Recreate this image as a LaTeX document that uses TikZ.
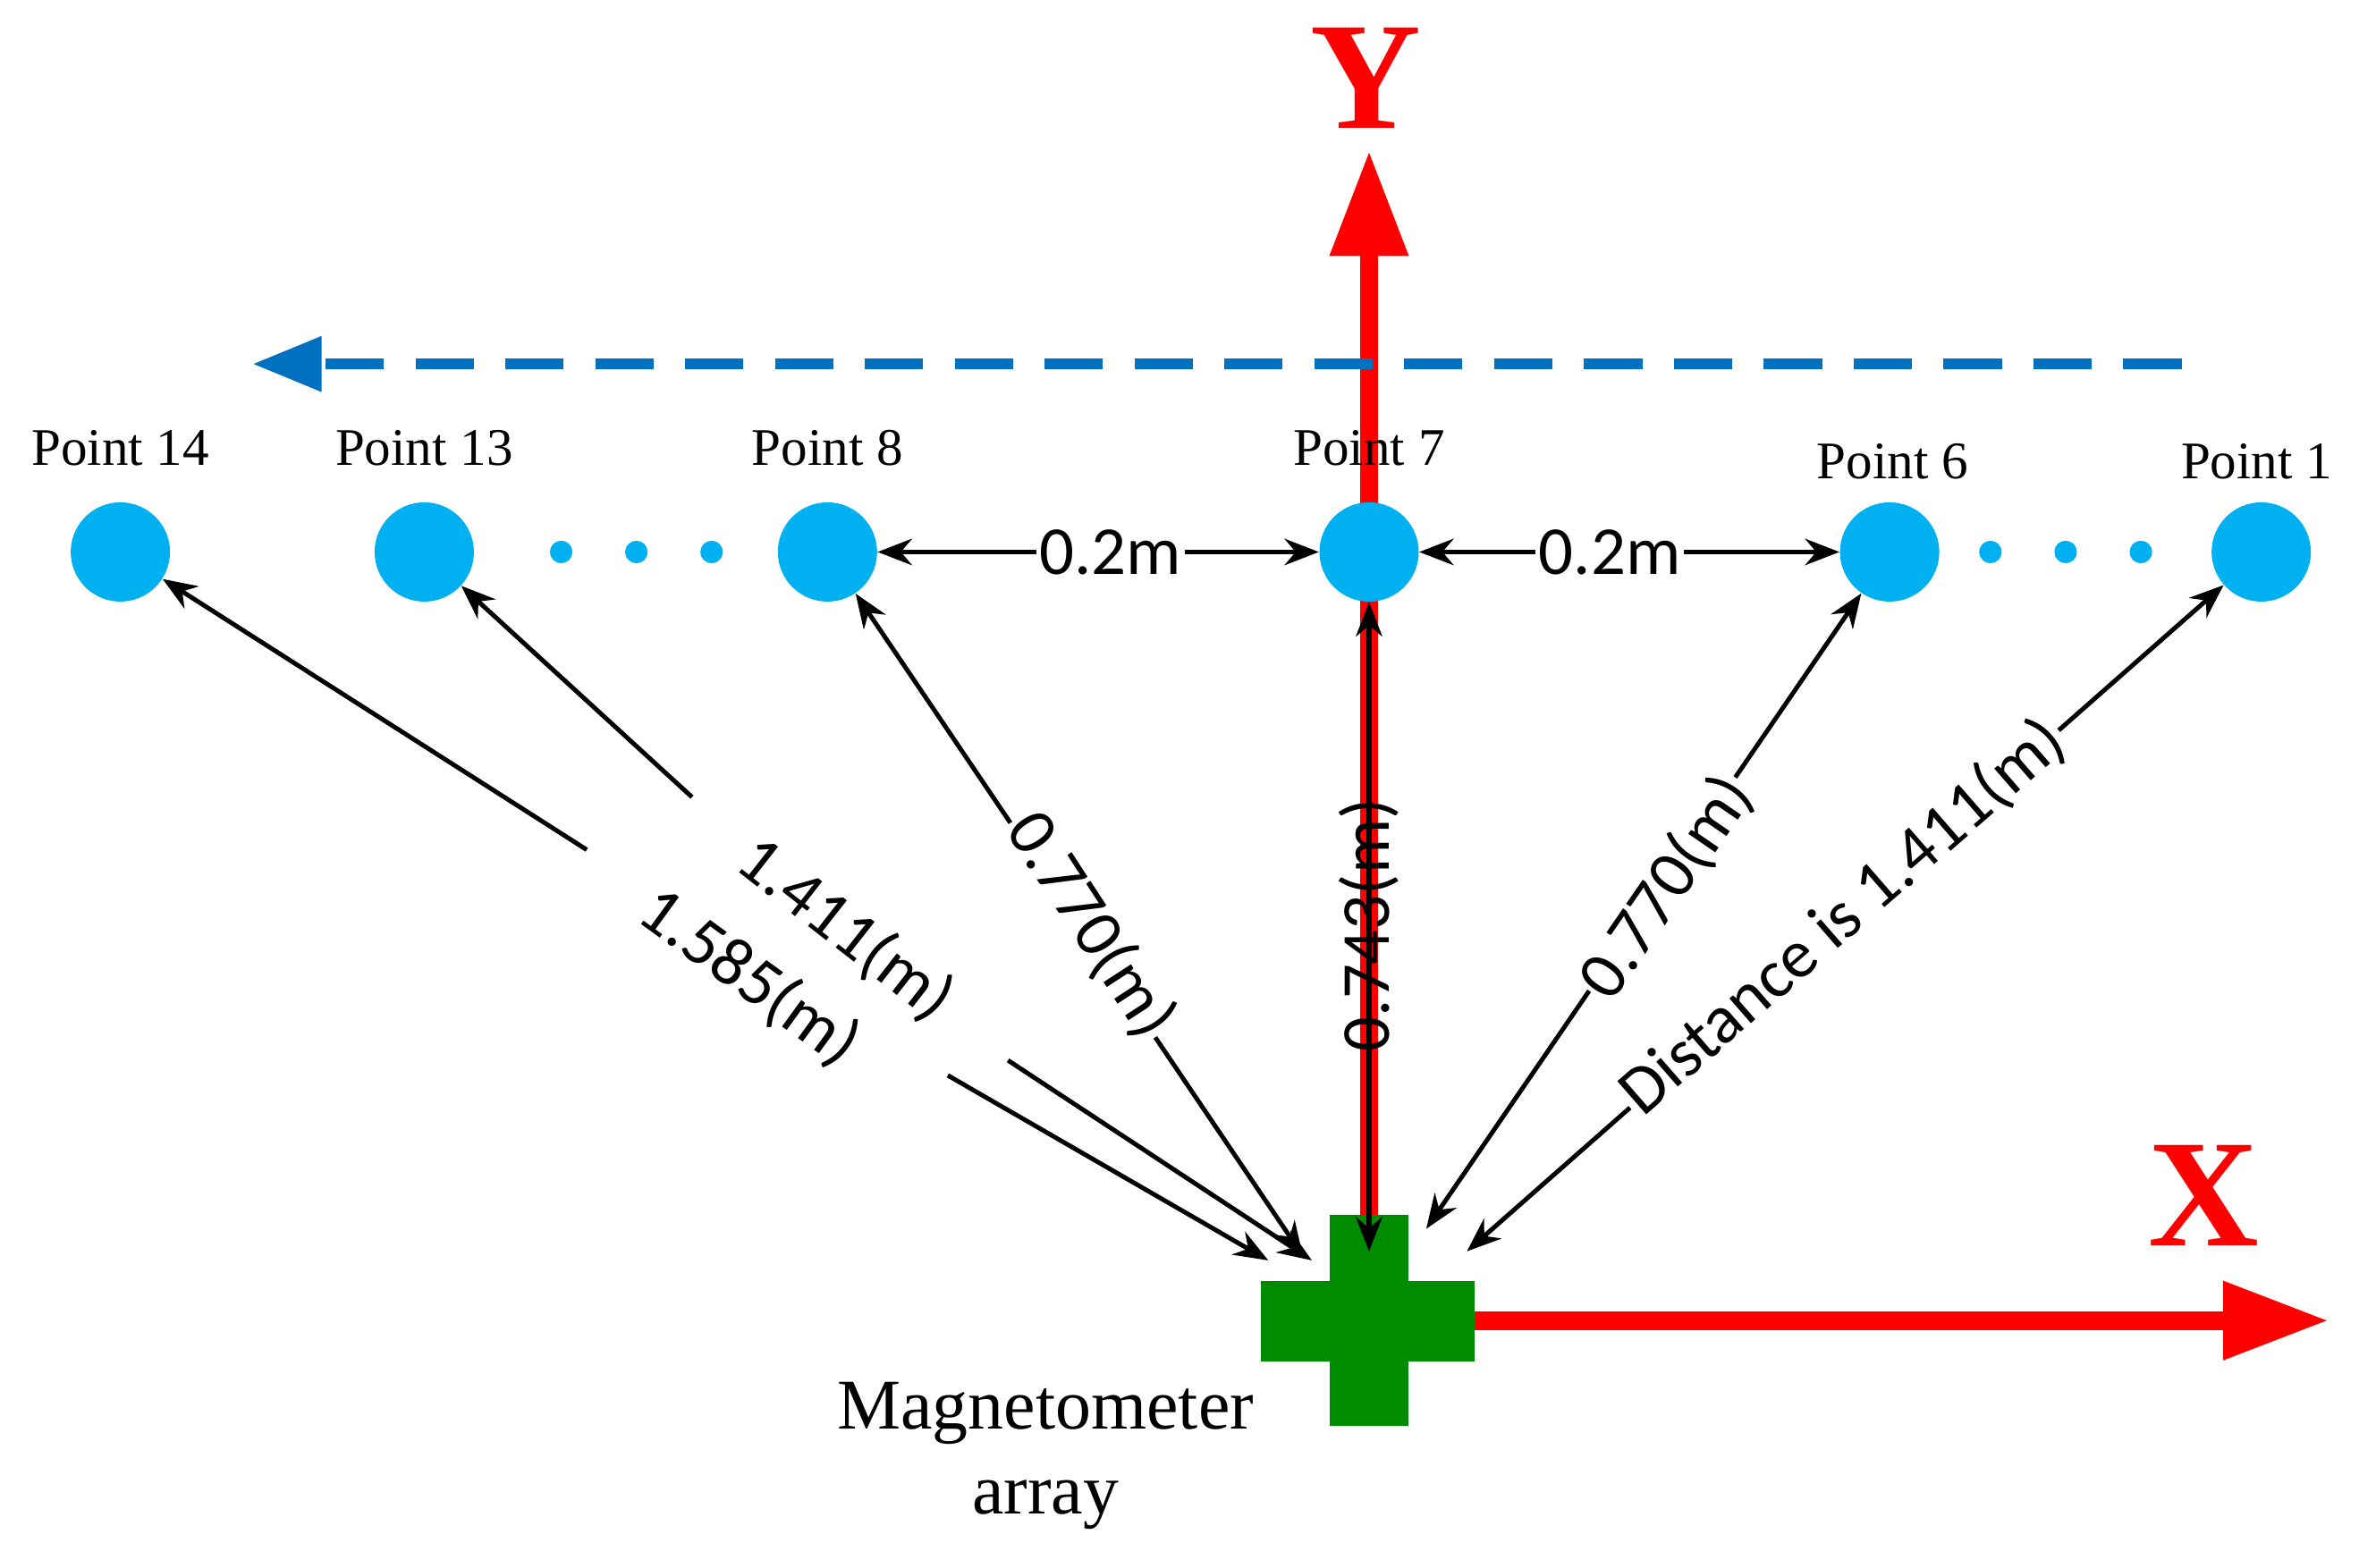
\documentclass[tikz,border=0pt]{standalone}
\usepackage{fontspec}
\setmainfont{Liberation Serif}
\newfontfamily\calib{Carlito}
\usetikzlibrary{arrows.meta}
\definecolor{ptblue}{RGB}{0,176,240}
\definecolor{dblue}{RGB}{0,112,192}
\definecolor{gcross}{RGB}{0,140,0}
\begin{document}
\begin{tikzpicture}[x=0.02cm,y=-0.02cm,
  pt/.style={circle,fill=ptblue,minimum size=1.32cm,inner sep=0},
  dot/.style={circle,fill=ptblue,minimum size=0.3cm,inner sep=0},
  plab/.style={font=\fontsize{20}{22}\selectfont},
  dlab/.style={font=\calib\fontsize{26}{28}\selectfont,inner sep=1pt},
  tipA/.style={Stealth[length=13pt,width=10pt]},
  meas/.style={line width=1.7pt,{Stealth[length=13pt,width=10pt]}-{Stealth[length=13pt,width=10pt]}},
  single/.style={line width=1.7pt,-{Stealth[length=13pt,width=10pt]}},
  axis/.style={red,line width=7pt,-{Triangle[length=40pt,width=28pt]}}]
\useasboundingbox (0,0) rectangle (1568,1042);
% axes
\coordinate (O) at (910,878);
\coordinate (Ytip) at (910,100);
\coordinate (Xtip) at (1548,878);
\draw[axis] (O) -- (Ytip);
\draw[axis] (O) -- (Xtip);
\node[red,font=\bfseries\fontsize{58}{60}\selectfont] (Y) at (908,52) {Y};
\node[red,font=\bfseries\fontsize{58}{60}\selectfont] (X) at (1465,795) {X};
% dashed direction
\coordinate (ds) at (1450,242);
\coordinate (de) at (168,242);
\draw[dblue,line width=4pt,dash pattern=on 22pt off 12pt,-{Triangle[length=26pt,width=20pt]}] (ds) -- (de);
% points
\node[pt] (p14) at (80,367) {};
\node[pt] (p13) at (282,367) {};
\node[pt] (p8) at (550,367) {};
\node[pt] (p7) at (910,367) {};
\node[pt] (p6) at (1256,367) {};
\node[pt] (p1) at (1503,367) {};
\foreach \x/\n in {373/a,423/b,473/c,1323/d,1373/e,1423/f} \node[dot] (dot\n) at (\x,367) {};
\node[plab] (l14) at (80,298) {Point 14};
\node[plab] (l13) at (282,298) {Point 13};
\node[plab] (l8) at (550,298) {Point 8};
\node[plab] (l7) at (910,298) {Point 7};
\node[plab] (l6) at (1258,307) {Point 6};
\node[plab] (l1) at (1500,307) {Point 1};
% 0.2m
\node[dlab] (s1) at (738,367) {0.2m};
\node[dlab] (s2) at (1070,367) {0.2m};
\draw[single] (s1) -- (p8);
\draw[single] (s1) -- (p7);
\draw[single] (s2) -- (p7);
\draw[single] (s2) -- (p6);
% cross
\fill[gcross] (884,808) rectangle (936,948);
\fill[gcross] (838,852) rectangle (980,905);
\node[font=\fontsize{27}{32}\selectfont,align=center] (mag) at (695,968) {Magnetometer\\array};
% end points at cross
\coordinate (c14) at (843,838);
\coordinate (c13) at (872,838);
\coordinate (c8) at (866,835);
\coordinate (c7) at (910,832);
\coordinate (c6) at (948,817);
\coordinate (c1) at (975,832);
\coordinate (b14a) at (630,715);
\coordinate (b14b) at (390,565);
\coordinate (b13a) at (670,705);
\coordinate (b13b) at (460,530);
\draw[single] (b14a) -- (c14);
\draw[single] (b14b) -- (p14);
\draw[single] (b13a) -- (c13);
\draw[single] (b13b) -- (p13);
\draw[meas] (c8) -- (p8);
\draw[meas] (c7) -- (p7);
\draw[meas] (c6) -- (p6);
\draw[meas] (c1) -- (p1);
\node[dlab,rotate=-36] (m14) at (498,650) {1.585(m)};
\node[dlab,rotate=-38] (m13) at (562,618) {1.411(m)};
\node[dlab,fill=white,rotate=-57] (m8) at (725,615) {0.770(m)};
\node[dlab,rotate=90] (m7) at (910,615) {0.743(m)};
\node[dlab,fill=white,rotate=55.5] (m6) at (1108,590) {0.770(m)};
\node[dlab,fill=white,rotate=41] (m1) at (1225,610) {Distance is 1.411(m)};
\end{tikzpicture}
\end{document}
